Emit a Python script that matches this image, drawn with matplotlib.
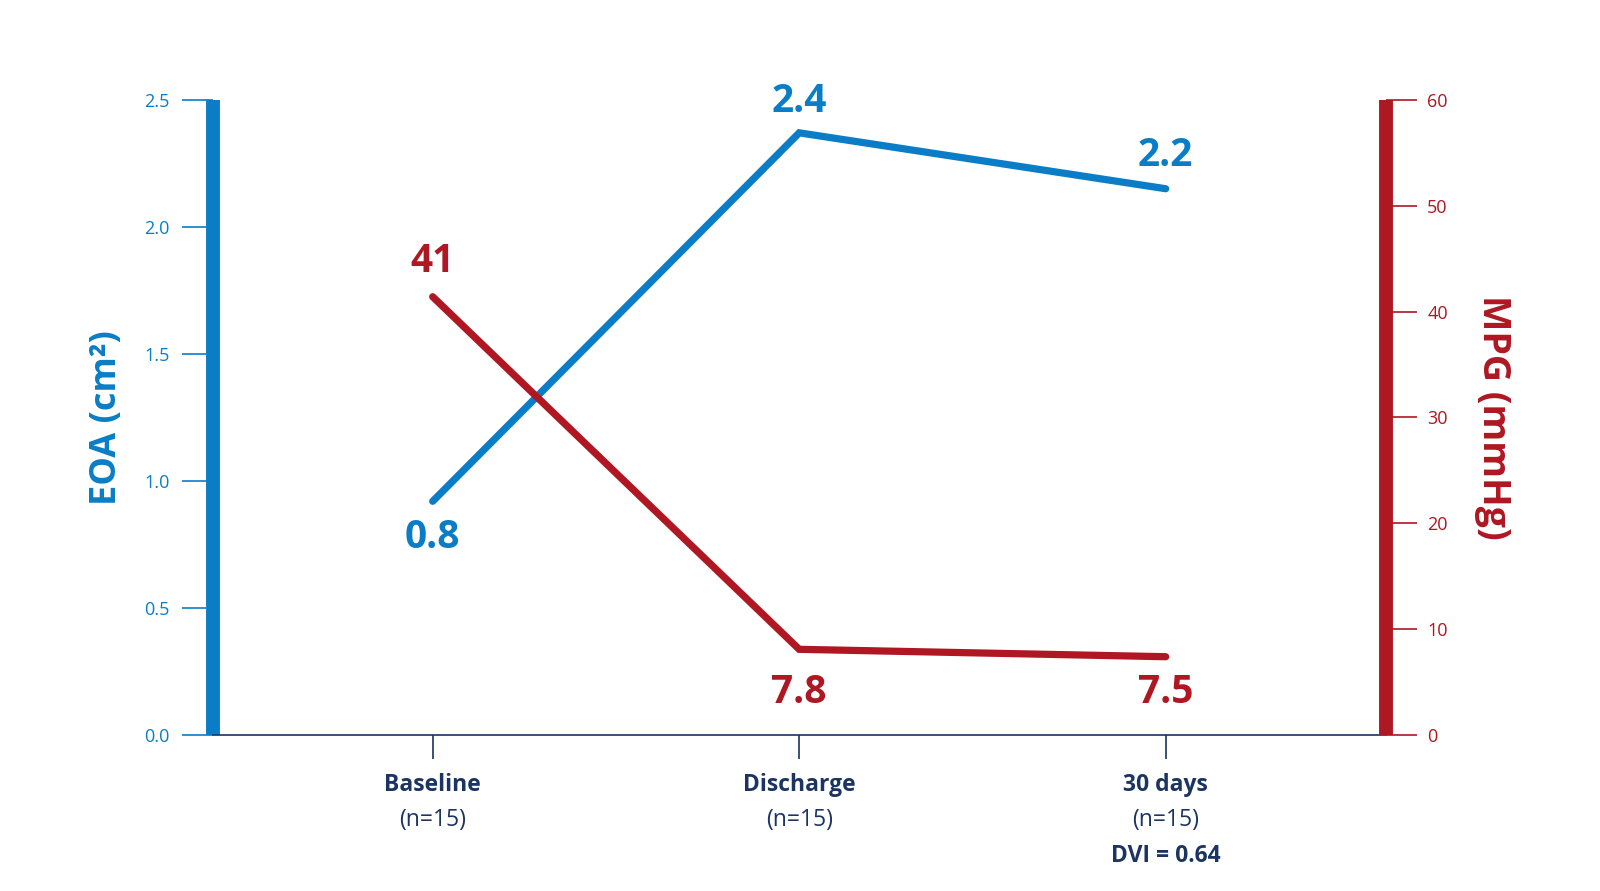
import matplotlib.pyplot as plt

# data
stages = ["Baseline", "Discharge", "30 days"]
counts = ["(n=15)", "(n=15)", "(n=15)"]
eoa = [0.92, 2.37, 2.15]          # cm2, as plotted
eoa_labels = ["0.8", "2.4", "2.2"]
mpg = [41.4, 8.1, 7.4]            # mmHg, as plotted
mpg_labels = ["41", "7.8", "7.5"]
eoa_ticks = [0.0, 0.5, 1.0, 1.5, 2.0, 2.5]
mpg_ticks = [0, 10, 20, 30, 40, 50, 60]
extra_note = "DVI = 0.64"

blue = "#0A7DC6"
red = "#AF1722"
navy = "#1B3461"

plt.rcParams['font.family'] = ['Open Sans', 'DejaVu Sans']

fig = plt.figure(figsize=(16, 8.91), dpi=100)
ax = fig.add_axes([0.133, 0.175, 0.733, 0.713])
ax2 = ax.twinx()

x = list(range(len(stages)))
ax.plot(x, eoa, color=blue, lw=5.2, solid_capstyle='round', solid_joinstyle='miter')
ax2.plot(x, mpg, color=red, lw=5.2, solid_capstyle='round', solid_joinstyle='miter')

ax.set_xlim(-0.6, 2.6)
ax.set_ylim(0, 2.5)
ax2.set_ylim(0, 60)

# spines
for s in ['top', 'right']:
    ax.spines[s].set_visible(False)
for s in ['top', 'left', 'bottom']:
    ax2.spines[s].set_visible(False)
ax.spines['left'].set_color(blue)
ax.spines['left'].set_linewidth(10)
ax.spines['left'].set_capstyle('butt')
ax.spines['bottom'].set_color(navy)
ax.spines['bottom'].set_linewidth(1.2)
ax2.spines['right'].set_color(red)
ax2.spines['right'].set_linewidth(10)
ax2.spines['right'].set_capstyle('butt')

ax.set_yticks(eoa_ticks)
ax.set_yticklabels([f"{t:.1f}" for t in eoa_ticks])
ax.tick_params(axis='y', colors=blue, length=22, width=1.2, pad=9, labelsize=13)
ax2.set_yticks(mpg_ticks)
ax2.tick_params(axis='y', colors=red, length=22, width=1.2, pad=8, labelsize=13)

ax.set_xticks(x)
ax.set_xticklabels([])
ax.tick_params(axis='x', colors=navy, length=17, width=1.2)

ax.set_ylabel("EOA (cm²)", color=blue, fontsize=26, fontweight='bold', labelpad=14)
ax2.set_ylabel("MPG (mmHg)", color=red, fontsize=27, fontweight='bold', rotation=270,
               labelpad=46)

# value labels
eoa_off = [-36, 31, 33]
for xi, v, lab, off in zip(x, eoa, eoa_labels, eoa_off):
    ax.annotate(lab, (xi, v), xytext=(0, off), textcoords='offset pixels',
                ha='center', va='center', color=blue, fontsize=28, fontweight='bold')
mpg_off = [35, -43, -36]
for xi, v, lab, off in zip(x, mpg, mpg_labels, mpg_off):
    ax2.annotate(lab, (xi, v), xytext=(0, off), textcoords='offset pixels',
                 ha='center', va='center', color=red, fontsize=28, fontweight='bold')

# category labels
tr = ax.get_xaxis_transform()
for xi, st, n in zip(x, stages, counts):
    ax.annotate(st, (xi, 0), xycoords=tr, xytext=(0, -50), textcoords='offset pixels',
                ha='center', va='center', color=navy, fontsize=16.5, fontweight='bold')
    ax.annotate(n, (xi, 0), xycoords=tr, xytext=(0, -85), textcoords='offset pixels',
                ha='center', va='center', color=navy, fontsize=16.5)
ax.annotate(extra_note, (x[-1], 0), xycoords=tr, xytext=(0, -121), textcoords='offset pixels',
            ha='center', va='center', color=navy, fontsize=16.5, fontweight='bold')

fig.savefig("out.png", dpi=100, facecolor='white')
